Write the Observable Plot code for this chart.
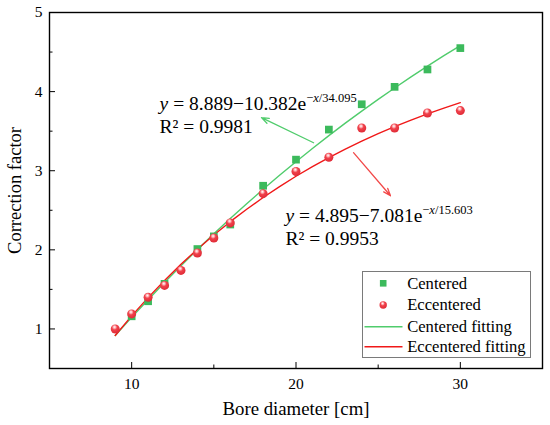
<!DOCTYPE html>
<html><head><meta charset="utf-8">
<script src="https://cdn.jsdelivr.net/npm/d3@7"></script>
<script src="https://cdn.jsdelivr.net/npm/@observablehq/plot@0.6"></script>
<style>
html,body{margin:0;padding:0;background:#fff;}
#wrap{position:relative;width:550px;height:425px;font-family:'Liberation Serif',serif;}
#wrap svg text, #wrap svg tspan{font-family:'Liberation Serif',serif !important;}
#legend{position:absolute;left:361.5px;top:271px;}
</style></head><body><div id="wrap"></div>
<script>
// ---- data ----
const centeredX = [10, 11, 12, 14, 15, 16, 18, 20, 22, 24, 26, 28, 30];
const centeredY = [1.16, 1.35, 1.57, 2.01, 2.17, 2.32, 2.81, 3.14, 3.52, 3.84, 4.06, 4.28, 4.55];
const eccenteredX = [9, 10, 11, 12, 13, 14, 15, 16, 18, 20, 22, 24, 26, 28, 30];
const eccenteredY = [1.00, 1.19, 1.40, 1.55, 1.74, 1.96, 2.15, 2.34, 2.71, 2.99, 3.17, 3.54, 3.54, 3.73, 3.76];
// fitted curves as drawn (values of the printed fit equations)
const fitX = [9, 10, 11, 12, 13, 14, 15, 16, 17, 18, 19, 20, 21, 22, 23, 24, 25, 26, 27, 28, 29, 30];
const centeredFitY = [0.916, 1.146, 1.370, 1.587, 1.798, 2.003, 2.202, 2.395, 2.583, 2.765, 2.942, 3.114, 3.281, 3.443, 3.601, 3.754, 3.902, 4.046, 4.186, 4.322, 4.454, 4.582];
const eccenteredFitY = [0.918, 1.165, 1.396, 1.613, 1.817, 2.008, 2.187, 2.356, 2.513, 2.661, 2.800, 2.930, 3.052, 3.166, 3.274, 3.374, 3.469, 3.557, 3.640, 3.718, 3.791, 3.860];
const xTicks = [10, 20, 30];
const xMinorTicks = [15, 25];
const yTicks = [1, 2, 3, 4, 5];
const yMinorTicks = [1.5, 2.5, 3.5, 4.5];
const xTitle = "Bore diameter [cm]";
const yTitle = "Correction factor";
const legendLabels = ["Centered", "Eccentered", "Centered fitting", "Eccentered fitting"];
const annotations = [
  {x: 11.70, y: 3.849, text: "y = 8.889−10.382e−x/34.095"},
  {x: 11.70, y: 3.554, text: "R² = 0.9981"},
  {x: 19.36, y: 2.432, text: "y = 4.895−7.081e−x/15.603"},
  {x: 19.36, y: 2.137, text: "R² = 0.9953"}
];
const arrows = [
  {x1: 21.07, y1: 3.354, x2: 17.90, y2: 3.671, c: "green"},
  {x1: 23.50, y1: 3.228, x2: 25.75, y2: 2.684, c: "red"}
];

const GREEN = "#3cba5c", GREEN_LINE = "#50cc6c", RED = "#f0424c", RED_LINE = "#f01818";
const FONT = "'Liberation Serif', serif";

const pts = (xs, ys) => xs.map((x, i) => ({x, y: ys[i]}));

const chart = Plot.plot({
  width: 550, height: 425,
  marginLeft: 49, marginRight: 8, marginTop: 12, marginBottom: 57,
  style: {fontFamily: FONT, fontSize: "15.5px", background: "white", color: "black", overflow: "visible"},
  x: {domain: [5, 35]},
  y: {domain: [0.5, 5]},
  marks: [
    Plot.axisX({ticks: xTicks, tickSize: -6, tickPadding: 15, tickFormat: d3.format("d"), label: null, fontSize: 15.5}),
    Plot.axisX({ticks: xMinorTicks, tickSize: -3.5, tickFormat: () => "", label: null}),
    Plot.axisY({ticks: yTicks, tickSize: -6, tickPadding: 13, tickFormat: d3.format("d"), label: null, fontSize: 15.5}),
    Plot.axisY({ticks: yMinorTicks, tickSize: -3.5, tickFormat: () => "", label: null}),
    Plot.line(pts(fitX, centeredFitY), {x: "x", y: "y", stroke: GREEN_LINE, strokeWidth: 1.4}),
    Plot.line(pts(fitX, eccenteredFitY), {x: "x", y: "y", stroke: RED_LINE, strokeWidth: 1.4}),
    Plot.dot(pts(centeredX, centeredY), {x: "x", y: "y", symbol: "square", r: 4.35, fill: GREEN, stroke: "none"}),
    Plot.dot(pts(eccenteredX, eccenteredY), {x: "x", y: "y", r: 4.5, fill: "url(#ballRed)", stroke: "none"}),
    Plot.arrow(arrows.filter(d => d.c === "green"), {x1: "x1", y1: "y1", x2: "x2", y2: "y2", stroke: GREEN_LINE, strokeWidth: 1.3, headLength: 9, headAngle: 40}),
    Plot.arrow(arrows.filter(d => d.c === "red"), {x1: "x1", y1: "y1", x2: "x2", y2: "y2", stroke: "#f24848", strokeWidth: 1.3, headLength: 9, headAngle: 40}),
    Plot.text(annotations, {x: "x", y: "y", text: "text", textAnchor: "start", lineAnchor: "middle", fontSize: 19.5, fill: "black"}),
    Plot.text([xTitle], {frameAnchor: "bottom", dy: 40, text: d => d, fontSize: 18.8, textAnchor: "middle", lineAnchor: "middle", fill: "black"}),
    Plot.text([yTitle], {frameAnchor: "left", dx: -34, rotate: -90, text: d => d, fontSize: 18.5, textAnchor: "middle", lineAnchor: "middle", fill: "black"}),
    Plot.frame({stroke: "black", strokeWidth: 1.4})
  ]
});

const svg = d3.select(chart);
svg.attr("font-family", FONT);
// gradient for the shaded "ball" markers
const defs = svg.insert("defs", ":first-child");
const g = defs.append("radialGradient").attr("id", "ballRed").attr("cx", "42%").attr("cy", "35%").attr("r", "65%").attr("fx", "42%").attr("fy", "28%");
g.append("stop").attr("offset", "0%").attr("stop-color", "#ffffff");
g.append("stop").attr("offset", "22%").attr("stop-color", "#ffb0b4");
g.append("stop").attr("offset", "45%").attr("stop-color", RED);
g.append("stop").attr("offset", "100%").attr("stop-color", "#e02a36");

// italic y and superscript exponent in fit equations
svg.selectAll("text").each(function() {
  const t = d3.select(this);
  t.attr("font-family", FONT);
  const s = this.textContent;
  const m = s.match(/^y = (.*e)(−)x\/(.*)$/);
  if (!m) return;
  t.text(null);
  t.append("tspan").attr("font-style", "italic").text("y");
  t.append("tspan").text(" = " + m[1]);
  t.append("tspan").attr("font-size", 12.5).attr("dy", "-7.5").text(m[2]);
  t.append("tspan").attr("font-size", 12.5).attr("font-style", "italic").text("x");
  t.append("tspan").attr("font-size", 12.5).text("/" + m[3]);
});

const wrap = document.getElementById("wrap");
wrap.appendChild(chart);

// legend box (inside plot area, lower right)
const lw = 169, lh = 87;
const leg = d3.select(wrap).append("svg").attr("id", "legend").attr("width", lw).attr("height", lh)
  .attr("font-family", FONT).attr("font-size", 16.6).style("overflow", "visible");
const lg = leg.append("defs").append("radialGradient").attr("id", "ballRed2").attr("cx", "42%").attr("cy", "35%").attr("r", "65%").attr("fx", "42%").attr("fy", "28%");
lg.append("stop").attr("offset", "0%").attr("stop-color", "#ffffff");
lg.append("stop").attr("offset", "22%").attr("stop-color", "#ffb0b4");
lg.append("stop").attr("offset", "45%").attr("stop-color", RED);
lg.append("stop").attr("offset", "100%").attr("stop-color", "#e02a36");
leg.append("rect").attr("x", 0.5).attr("y", 0.5).attr("width", lw - 1).attr("height", lh - 1).attr("fill", "white").attr("stroke", "#7a7a7a").attr("stroke-width", 1);
const rowY = [12.3, 34, 55.7, 75.7];
legendLabels.forEach((label, i) => {
  const cy = rowY[i];
  if (i === 0) leg.append("rect").attr("x", 21.2 - 3.3).attr("y", cy - 3.3).attr("width", 6.6).attr("height", 6.6).attr("fill", GREEN);
  if (i === 1) leg.append("circle").attr("cx", 21.2).attr("cy", cy).attr("r", 3.7).attr("fill", "url(#ballRed2)");
  if (i === 2) leg.append("line").attr("x1", 2.5).attr("x2", 40.5).attr("y1", cy).attr("y2", cy).attr("stroke", GREEN_LINE).attr("stroke-width", 1.4);
  if (i === 3) leg.append("line").attr("x1", 2.5).attr("x2", 40.5).attr("y1", cy).attr("y2", cy).attr("stroke", RED_LINE).attr("stroke-width", 1.4);
  leg.append("text").attr("x", 45.2).attr("y", cy).attr("dy", "0.33em").attr("fill", "black").attr("font-family", FONT).text(label);
});
</script>
</body></html>
